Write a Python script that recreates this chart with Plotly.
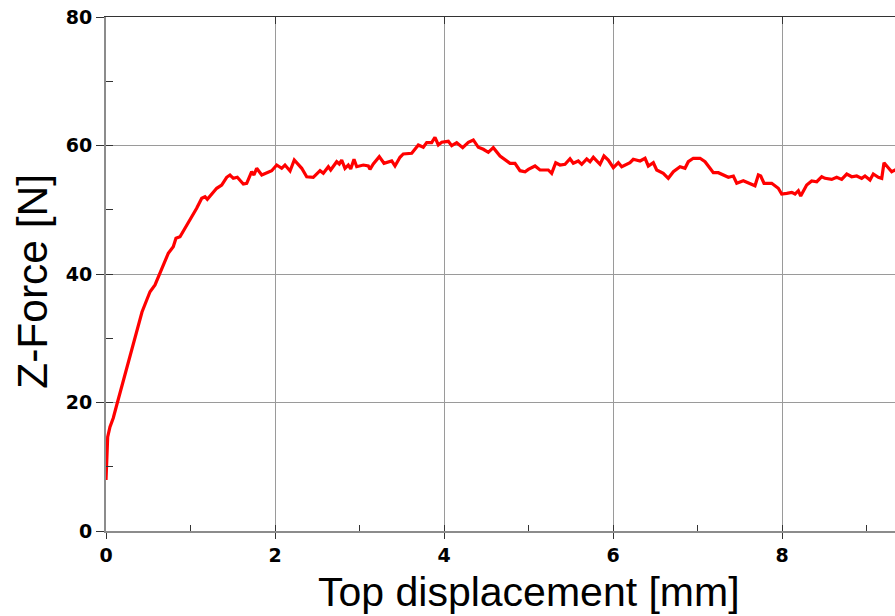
import plotly.graph_objects as go

# Measured Z-force versus top displacement
displacement_mm = [
    0.000, 0.008, 0.020, 0.047, 0.086, 0.127, 0.166, 0.205, 0.284, 0.367,
    0.426, 0.482, 0.521, 0.580, 0.619, 0.678, 0.737, 0.796, 0.828, 0.876,
    0.935, 1.014, 1.073, 1.133, 1.172, 1.199, 1.310, 1.369, 1.428, 1.467,
    1.507, 1.554, 1.625, 1.665, 1.724, 1.751, 1.783, 1.843, 1.902, 1.961,
    2.020, 2.079, 2.118, 2.178, 2.228, 2.288, 2.316, 2.375, 2.453, 2.533,
    2.572, 2.631, 2.659, 2.730, 2.761, 2.789, 2.828, 2.867, 2.896, 2.935,
    2.967, 3.045, 3.104, 3.124, 3.163, 3.234, 3.290, 3.381, 3.420, 3.479,
    3.518, 3.618, 3.696, 3.755, 3.795, 3.854, 3.893, 3.933, 3.973, 4.051,
    4.091, 4.150, 4.221, 4.288, 4.347, 4.406, 4.465, 4.524, 4.583, 4.663,
    4.742, 4.781, 4.840, 4.899, 4.959, 4.998, 5.077, 5.136, 5.234, 5.274,
    5.322, 5.373, 5.432, 5.491, 5.530, 5.589, 5.630, 5.689, 5.728, 5.767,
    5.846, 5.893, 5.944, 6.004, 6.063, 6.103, 6.201, 6.240, 6.320, 6.379,
    6.418, 6.477, 6.517, 6.595, 6.654, 6.714, 6.793, 6.852, 6.891, 6.950,
    7.030, 7.089, 7.148, 7.187, 7.246, 7.306, 7.365, 7.424, 7.464, 7.542,
    7.621, 7.680, 7.720, 7.748, 7.787, 7.878, 7.956, 7.996, 8.056, 8.115,
    8.154, 8.193, 8.221, 8.292, 8.351, 8.411, 8.470, 8.509, 8.588, 8.647,
    8.706, 8.766, 8.825, 8.884, 8.943, 8.982, 9.041, 9.080, 9.140, 9.180,
    9.207, 9.258, 9.298, 9.337, 9.360,
]
z_force_n = [
    7.94, 11.36, 14.63, 16.19, 17.59, 19.61, 21.48, 23.50, 27.39, 31.28,
    34.09, 35.95, 37.24, 38.29, 39.58, 41.40, 43.22, 44.25, 45.56, 45.80,
    47.11, 48.67, 50.22, 51.78, 52.03, 51.63, 53.34, 53.85, 55.05, 55.41,
    54.89, 55.05, 54.01, 54.12, 55.92, 55.41, 56.45, 55.41, 55.77, 56.08,
    56.96, 56.45, 56.96, 56.03, 57.74, 56.96, 56.45, 55.14, 55.05, 56.08,
    55.67, 56.70, 56.19, 57.48, 57.12, 57.74, 56.45, 56.96, 56.34, 57.85,
    56.70, 56.96, 56.81, 56.29, 57.12, 58.26, 57.23, 57.59, 56.81, 58.16,
    58.68, 58.79, 60.08, 59.72, 60.44, 60.44, 61.28, 60.08, 60.50, 60.65,
    59.97, 60.44, 59.66, 60.50, 60.86, 59.72, 59.41, 58.94, 59.66, 58.37,
    57.59, 57.23, 57.23, 56.08, 55.92, 56.29, 56.81, 56.19, 56.19, 55.67,
    57.32, 56.96, 57.07, 57.94, 57.23, 57.59, 57.07, 57.90, 57.48, 58.16,
    57.07, 58.37, 57.74, 56.54, 57.32, 56.70, 57.32, 57.85, 57.59, 58.01,
    56.81, 57.32, 56.19, 55.67, 54.89, 55.92, 56.70, 56.45, 57.48, 58.01,
    58.01, 57.48, 56.45, 55.77, 55.77, 55.41, 55.05, 55.25, 54.12, 54.52,
    54.01, 53.74, 55.41, 55.25, 54.12, 54.12, 53.34, 52.45, 52.56, 52.71,
    52.45, 52.97, 52.14, 53.85, 54.47, 54.36, 55.14, 54.89, 54.73, 55.05,
    54.73, 55.56, 55.14, 55.25, 54.89, 55.25, 54.63, 55.56, 55.05, 54.89,
    57.32, 56.45, 55.92, 56.19, 55.90,
]

x_range = [0, 9.337]
y_range = [0, 80]

x_title = "Top displacement [mm]"
y_title = "Z-Force [N]"

TICK_FONT = dict(family="DejaVu Sans", size=19, color="#000000")
TITLE_FAMILY = "Liberation Sans, Arial, sans-serif"
GRID = "#9a9a9a"
AXIS_LINE = "#8c8c8c"
DARK = "#333333"

fig = go.Figure()

fig.add_trace(go.Scatter(
    x=displacement_mm, y=z_force_n, mode="lines",
    line=dict(color="#ff0000", width=3.2), showlegend=False, hoverinfo="skip",
))
# helper traces so the overlay axes carrying the extra ticks are drawn
fig.add_trace(go.Scatter(x=[None], y=[None], xaxis="x2", yaxis="y2",
                         showlegend=False, hoverinfo="skip"))
fig.add_trace(go.Scatter(x=[None], y=[None], xaxis="x3", yaxis="y2",
                         showlegend=False, hoverinfo="skip"))

fig.update_layout(
    width=895, height=616,
    margin=dict(l=106, r=0, t=17, b=85),
    paper_bgcolor="white", plot_bgcolor="white",
    xaxis=dict(
        range=x_range, dtick=2, tick0=0,
        showgrid=True, gridcolor=GRID, gridwidth=1, zeroline=False,
        showline=True, linecolor=AXIS_LINE, linewidth=2,
        ticks="outside", ticklen=6, tickwidth=1, tickcolor=DARK,
        tickfont=TICK_FONT, tickprefix="<b>", ticksuffix="</b>",
    ),
    xaxis2=dict(
        overlaying="x", range=x_range, dtick=1, tick0=0,
        showgrid=False, zeroline=False, showline=False,
        ticks="inside", ticklen=6, tickwidth=1, tickcolor=DARK,
        showticklabels=False,
    ),
    xaxis3=dict(
        overlaying="x", side="top", range=x_range, dtick=2, tick0=0,
        showgrid=False, zeroline=False,
        showline=True, linecolor=DARK, linewidth=1,
        ticks="inside", ticklen=7, tickwidth=1, tickcolor=DARK,
        showticklabels=False,
    ),
    yaxis=dict(
        range=y_range, dtick=20, tick0=0,
        showgrid=True, gridcolor=GRID, gridwidth=1, zeroline=False,
        showline=True, linecolor=AXIS_LINE, linewidth=2,
        ticks="outside", ticklen=8, tickwidth=1, tickcolor=DARK,
        tickfont=TICK_FONT, tickprefix="<b>", ticksuffix="</b>",
    ),
    yaxis2=dict(
        overlaying="y", range=y_range, dtick=10, tick0=0,
        showgrid=False, zeroline=False, showline=False,
        ticks="inside", ticklen=7, tickwidth=1, tickcolor=DARK,
        showticklabels=False,
    ),
    annotations=[
        dict(text=x_title, xref="paper", yref="paper", x=0.536, y=-0.119,
             xanchor="center", yanchor="middle", showarrow=False,
             font=dict(family=TITLE_FAMILY, size=41, color="#000000")),
        dict(text=y_title, xref="paper", yref="paper", x=-0.093, y=0.486,
             xanchor="center", yanchor="middle", textangle=-90, showarrow=False,
             font=dict(family=TITLE_FAMILY, size=42.5, color="#000000")),
    ],
)

fig.write_html("out.html")
